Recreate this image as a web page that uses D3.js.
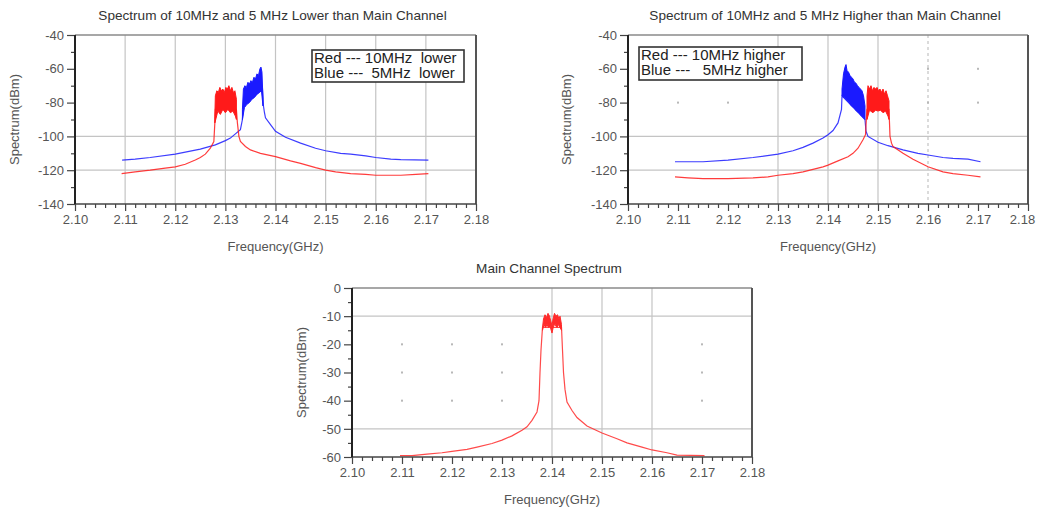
<!DOCTYPE html>
<html>
<head>
<meta charset="utf-8">
<script src="https://cdn.jsdelivr.net/npm/d3@7"></script>
<style>
  body { margin: 0; background: #fff; }
  svg { display: block; }
  text { font-family: "Liberation Sans", Arial, sans-serif; }
</style>
</head>
<body>
<div id="chart"></div>
<script>
// ---- data (frequency GHz, spectrum dBm) ----
const xMajor = [2.10, 2.11, 2.12, 2.13, 2.14, 2.15, 2.16, 2.17, 2.18];
const yMajorSide = [-40, -60, -80, -100, -120, -140];
const yMajorMain = [0, -10, -20, -30, -40, -50, -60];

// 10MHz / 5MHz lower than main channel
const lowRedLine = [[2.1093,-122],[2.112,-121],[2.115,-120],[2.118,-118.8],[2.12,-118],[2.122,-116.5],[2.124,-114],[2.125,-112.5],[2.126,-110.5],[2.127,-107],[2.1277,-103],[2.1279,-92],[2.128,-84],[2.1322,-84],[2.1324,-92],[2.1327,-100],[2.133,-103],[2.134,-106],[2.135,-108],[2.137,-110],[2.14,-112],[2.143,-114.5],[2.145,-116],[2.148,-118.5],[2.15,-120],[2.152,-121],[2.155,-122],[2.158,-122.5],[2.16,-123],[2.165,-123],[2.168,-122.5],[2.1705,-122]];
const lowRedBandTop = [[2.1279,-88],[2.128,-76],[2.1283,-73],[2.1286,-74],[2.1289,-71],[2.1292,-73],[2.1295,-72],[2.1298,-74],[2.1301,-71],[2.1304,-72],[2.1307,-70],[2.131,-73],[2.1313,-71],[2.1316,-74],[2.1319,-73],[2.1322,-78]];
const lowRedBandBot = [[2.1279,-92],[2.1285,-85],[2.129,-87],[2.1295,-84],[2.13,-86],[2.1305,-84],[2.131,-86],[2.1315,-85],[2.132,-88],[2.1322,-90]];
const lowBlueLine = [[2.1094,-114],[2.112,-113.5],[2.115,-112.5],[2.12,-110.5],[2.125,-107.5],[2.128,-105],[2.13,-102.5],[2.131,-101],[2.132,-98.5],[2.133,-96],[2.1334,-90],[2.1336,-82],[2.1374,-72],[2.1376,-82],[2.1378,-86],[2.138,-89],[2.139,-93],[2.14,-97],[2.142,-100.5],[2.145,-104],[2.148,-107],[2.15,-108.5],[2.153,-110],[2.155,-110.5],[2.158,-111.5],[2.16,-112.5],[2.163,-113.5],[2.165,-113.8],[2.1705,-114]];
const lowBlueBandTop = [[2.1334,-84],[2.1336,-72],[2.1339,-70],[2.1342,-71],[2.1345,-68],[2.1348,-69],[2.1351,-67],[2.1354,-68],[2.1357,-65],[2.136,-66],[2.1363,-63],[2.1366,-64],[2.1369,-60],[2.1371,-59],[2.1373,-62],[2.1375,-78]];
const lowBlueBandBot = [[2.1334,-90],[2.1338,-83],[2.1343,-81],[2.1348,-80],[2.1353,-78],[2.1358,-77],[2.1363,-75],[2.1368,-74],[2.1372,-73],[2.1375,-82]];

// 10MHz / 5MHz higher than main channel
const highRedLine = [[2.1094,-124],[2.112,-124.5],[2.115,-125],[2.12,-125],[2.125,-124.5],[2.128,-124],[2.13,-123],[2.133,-122],[2.135,-121],[2.137,-119.5],[2.139,-118],[2.14,-117],[2.142,-114.5],[2.144,-112],[2.145,-110],[2.146,-107],[2.147,-102],[2.1475,-99],[2.1477,-88],[2.1478,-84],[2.1522,-84],[2.1524,-100],[2.1527,-104],[2.153,-106],[2.155,-110],[2.157,-113.5],[2.16,-118],[2.163,-121],[2.165,-122],[2.168,-123],[2.1705,-124]];
const highRedBandTop = [[2.1478,-76],[2.148,-70],[2.1483,-72],[2.1486,-70],[2.1489,-73],[2.1492,-71],[2.1495,-72],[2.1498,-71],[2.1501,-73],[2.1504,-72],[2.1507,-74],[2.151,-72],[2.1513,-75],[2.1516,-73],[2.1519,-76],[2.1522,-79]];
const highRedBandBot = [[2.1478,-90],[2.1483,-84.5],[2.149,-86],[2.1495,-84.5],[2.15,-85],[2.1505,-84.5],[2.151,-86],[2.1515,-85],[2.152,-88],[2.1522,-90]];
const highBlueLine = [[2.1094,-115],[2.112,-115],[2.115,-115],[2.12,-114],[2.125,-112.5],[2.13,-110.5],[2.133,-108.5],[2.135,-106.5],[2.137,-104],[2.139,-101],[2.14,-99],[2.141,-96.5],[2.142,-92],[2.1427,-84],[2.1428,-76],[2.1474,-90],[2.1476,-97],[2.148,-100],[2.15,-103.5],[2.152,-105.5],[2.155,-108],[2.158,-110],[2.16,-111],[2.163,-112.5],[2.165,-113],[2.168,-113.5],[2.1705,-115]];
const highBlueBandTop = [[2.1428,-72],[2.1431,-63],[2.1434,-59],[2.1436,-57.5],[2.1438,-61],[2.1441,-62],[2.1444,-64],[2.1447,-65],[2.145,-66],[2.1453,-68],[2.1456,-68.5],[2.1459,-70],[2.1462,-71],[2.1465,-72],[2.1468,-73],[2.1471,-76],[2.1474,-82]];
const highBlueBandBot = [[2.1428,-76],[2.1432,-77],[2.1437,-78.5],[2.1442,-80],[2.1447,-82],[2.1452,-83],[2.1457,-85],[2.1462,-86],[2.1467,-88],[2.1471,-89],[2.1474,-90]];

// main channel
const mainLine = [[2.1096,-59.5],[2.112,-59.5],[2.115,-59],[2.118,-58.5],[2.12,-58],[2.123,-57.3],[2.125,-56.5],[2.128,-55.2],[2.13,-54],[2.132,-52.5],[2.134,-50.5],[2.135,-49.3],[2.136,-47],[2.137,-44],[2.1374,-40],[2.1376,-30],[2.1378,-22],[2.1381,-14],[2.1419,-14],[2.1421,-22],[2.1423,-30],[2.1426,-36],[2.143,-40.5],[2.144,-43.5],[2.145,-46],[2.147,-49],[2.15,-51.5],[2.153,-53.5],[2.155,-55],[2.158,-56.5],[2.16,-57.5],[2.163,-58.5],[2.165,-59.3],[2.1705,-59.5]];
const mainBandTop = [[2.1381,-14],[2.1383,-11],[2.1386,-9.5],[2.1389,-10.5],[2.1392,-9],[2.1395,-10],[2.1398,-12],[2.14,-13.5],[2.1402,-11],[2.1405,-9],[2.1408,-10],[2.1411,-9.5],[2.1414,-11],[2.1416,-10],[2.1419,-13]];
const mainBandBot = [[2.1381,-15],[2.1384,-13],[2.1387,-14],[2.139,-13],[2.1393,-14],[2.1396,-13.5],[2.14,-16],[2.1403,-13.5],[2.1406,-13],[2.141,-14],[2.1413,-13],[2.1416,-14],[2.1419,-15]];

const charts = [
    {
        title: "Spectrum of 10MHz and 5 MHz Lower than Main Channel",
        left: 75, top: 35, width: 401, height: 169, yTitleGap: 60,
        yDomain: [-140, -40], yTicks: yMajorSide, yMinorStep: 10,
        solidX: [2.11, 2.12, 2.13, 2.14, 2.15, 2.16, 2.17], dashedX: [], solidY: [-100, -120],
        series: [
            { line: lowBlueLine, top: lowBlueBandTop, bot: lowBlueBandBot, color: "#1a1aff" },
            { line: lowRedLine, top: lowRedBandTop, bot: lowRedBandBot, color: "#ff1a1a" }
        ],
        legend: { x: 312, y: 50, w: 152, h: 32, lines: ["Red --- 10MHz  lower", "Blue ---  5MHz  lower"] }
    },
    {
        title: "Spectrum of 10MHz and 5 MHz Higher than Main Channel",
        left: 628, top: 35, width: 400, height: 169, yTitleGap: 61,
        yDomain: [-140, -40], yTicks: yMajorSide, yMinorStep: 10,
        solidX: [2.13, 2.14, 2.15], dashedX: [2.16], solidY: [-100, -120],
        series: [
            { line: highBlueLine, top: highBlueBandTop, bot: highBlueBandBot, color: "#1a1aff" },
            { line: highRedLine, top: highRedBandTop, bot: highRedBandBot, color: "#ff1a1a" }
        ],
        legend: { x: 639, y: 47, w: 163, h: 33, lines: ["Red --- 10MHz higher", "Blue ---   5MHz higher"] }
    },
    {
        title: "Main Channel Spectrum",
        left: 352, top: 288, width: 400, height: 169, yTitleGap: 50,
        yDomain: [-60, 0], yTicks: yMajorMain, yMinorStep: 5,
        solidX: [2.14, 2.15, 2.16], dashedX: [], solidY: [-10, -50],
        series: [
            { line: mainLine, top: mainBandTop, bot: mainBandBot, color: "#ff2a2a" }
        ],
        legend: null
    }
];

const svg = d3.select("#chart").append("svg")
    .attr("width", 1038)
    .attr("height", 508);

charts.forEach(drawChart);

function drawChart(c) {
    let g = svg.append("g").attr("transform", "translate(" + c.left + "," + c.top + ")");

    let x = d3.scaleLinear().domain([2.10, 2.18]).range([0, c.width]);
    let y = d3.scaleLinear().domain(c.yDomain).range([c.height, 0]);

    // minor tick values
    let xMinor = d3.range(0, 41).map(i => 2.10 + i * 0.002).filter(v => Math.round(v * 1000) % 10 !== 0);
    let yMinor = d3.range(c.yDomain[0], c.yDomain[1] + 0.1, c.yMinorStep).filter(v => c.yTicks.indexOf(v) < 0);

    // grid lines
    let inner = xMajor.slice(1, -1);
    g.selectAll(".vgrid").data(c.solidX.concat(c.dashedX)).enter().append("line")
        .attr("x1", d => x(d)).attr("x2", d => x(d))
        .attr("y1", 0).attr("y2", c.height)
        .attr("stroke", "#c4c4c4")
        .attr("stroke-width", 1.2)
        .attr("stroke-dasharray", d => c.dashedX.indexOf(d) >= 0 ? "3,3" : null);

    g.selectAll(".hgrid").data(c.solidY).enter().append("line")
        .attr("x1", 0).attr("x2", c.width)
        .attr("y1", d => y(d)).attr("y2", d => y(d))
        .attr("stroke", "#c4c4c4")
        .attr("stroke-width", 1.2);

    // what is left of the dotted grid: dots at crossings
    let dots = [];
    inner.forEach(xv => {
        c.yTicks.slice(1, -1).forEach(yv => {
            if (c.solidX.indexOf(xv) < 0 && c.solidY.indexOf(yv) < 0) dots.push([xv, yv]);
        });
    });
    g.selectAll(".dot").data(dots).enter().append("rect")
        .attr("x", d => x(d[0]) - 1).attr("y", d => y(d[1]) - 1)
        .attr("width", 2).attr("height", 2)
        .attr("fill", "#b8b8b8");

    // series
    let line = d3.line().x(d => x(d[0])).y(d => y(d[1]));
    c.series.forEach(s => {
        g.append("path")
            .datum(s.line)
            .attr("d", line)
            .attr("fill", "none")
            .attr("stroke", s.color)
            .attr("stroke-opacity", 0.85)
            .attr("stroke-width", 1.2);

        // noisy signal band: top envelope, then bottom envelope backwards
        let band = s.top.concat(s.bot.slice().reverse());
        g.append("path")
            .datum(band)
            .attr("d", d => line(d) + "Z")
            .attr("fill", s.color)
            .attr("stroke", s.color)
            .attr("stroke-width", 1);
    });

    // frame: top and right borders
    g.append("line").attr("x1", 0).attr("x2", c.width).attr("y1", 0).attr("y2", 0)
        .attr("stroke", "#8a8a8a").attr("stroke-width", 1.5);
    g.append("line").attr("x1", c.width).attr("x2", c.width).attr("y1", 0).attr("y2", c.height)
        .attr("stroke", "#555").attr("stroke-width", 2);

    // axes
    let xAxis = d3.axisBottom(x).tickValues(xMajor).tickSize(7).tickPadding(4)
        .tickFormat(d3.format(".2f"));
    let xAxisMinor = d3.axisBottom(x).tickValues(xMinor).tickSize(4).tickFormat("");
    let yAxis = d3.axisLeft(y).tickValues(c.yTicks).tickSize(8).tickPadding(3)
        .tickFormat(d => String(d));
    let yAxisMinor = d3.axisLeft(y).tickValues(yMinor).tickSize(4).tickFormat("");

    let gx = g.append("g").attr("transform", "translate(0," + c.height + ")");
    gx.call(xAxisMinor);
    gx.append("g").call(xAxis);
    let gy = g.append("g");
    gy.call(yAxisMinor);
    gy.append("g").call(yAxis);

    g.selectAll(".domain").remove();
    g.selectAll(".tick line").attr("stroke", "#444").attr("stroke-width", 1.2);
    g.selectAll(".tick text")
        .attr("font-size", 13)
        .attr("font-family", "'Liberation Sans', Arial, sans-serif")
        .attr("fill", "#555");

    // keep the last x label inside the page
    gx.selectAll(".tick text").attr("dx", function(d) {
        return (c.left + x(d) + 14 > 1038) ? (1036 - c.left - x(d) - 14) : 0;
    });

    // left and bottom axis lines
    g.append("line").attr("x1", 0).attr("x2", c.width).attr("y1", c.height).attr("y2", c.height)
        .attr("stroke", "#444").attr("stroke-width", 1.6);
    g.append("line").attr("x1", 0).attr("x2", 0).attr("y1", 0).attr("y2", c.height)
        .attr("stroke", "#222").attr("stroke-width", 2);

    // titles
    g.append("text")
        .attr("x", c.width / 2 - 3)
        .attr("y", -15)
        .attr("text-anchor", "middle")
        .attr("font-size", 13.6)
        .attr("fill", "#333")
        .text(c.title);

    g.append("text")
        .attr("x", c.width / 2)
        .attr("y", c.height + 47)
        .attr("text-anchor", "middle")
        .attr("font-size", 13)
        .attr("fill", "#555")
        .text("Frequency(GHz)");

    g.append("text")
        .attr("transform", "translate(" + (-c.yTitleGap + 4) + "," + (c.height / 2) + ") rotate(-90)")
        .attr("text-anchor", "middle")
        .attr("font-size", 13)
        .attr("fill", "#555")
        .text("Spectrum(dBm)");

    // legend box
    if (c.legend) {
        let L = c.legend;
        svg.append("rect")
            .attr("x", L.x).attr("y", L.y)
            .attr("width", L.w).attr("height", L.h)
            .attr("fill", "#fff")
            .attr("stroke", "#333")
            .attr("stroke-width", 1.6);
        svg.selectAll(null).data(L.lines).enter().append("text")
            .attr("x", L.x + 2)
            .attr("y", (d, i) => L.y + 13 + i * 15)
            .attr("font-size", 15)
            .attr("fill", "#222")
            .attr("xml:space", "preserve")
            .style("white-space", "pre")
            .text(d => d);
    }
}
</script>
</body>
</html>
